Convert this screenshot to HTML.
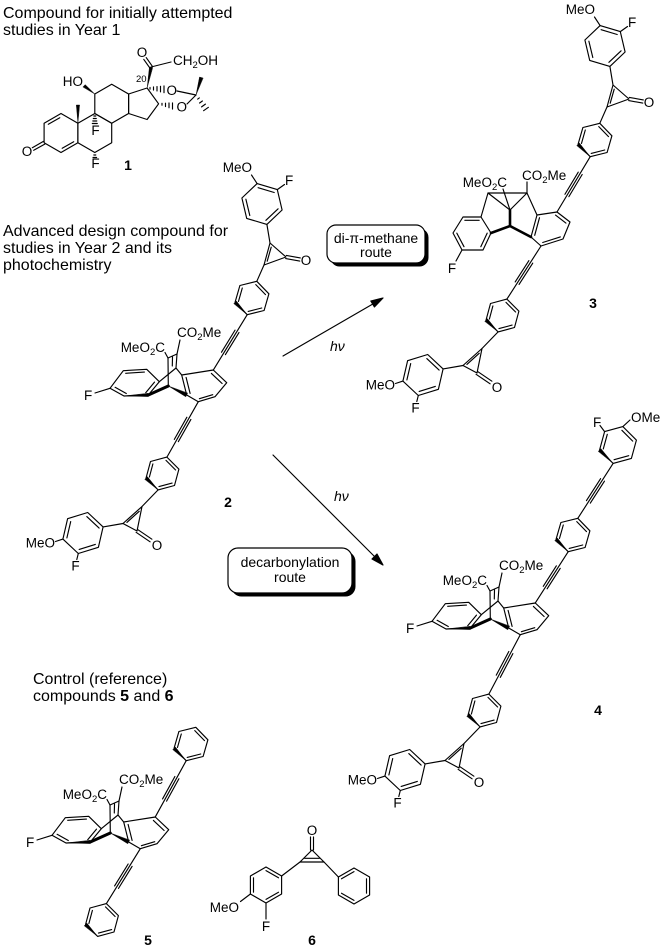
<!DOCTYPE html>
<html><head><meta charset="utf-8"><style>
html,body{margin:0;padding:0;background:#fff}
svg{display:block}
text{font-family:"Liberation Sans",Arial,sans-serif;fill:#000}
.t{font-size:16px}
.a{font-size:13.5px}
.n{font-size:14px;font-weight:bold}
.bx{font-size:14px}
</style></head><body>
<svg width="665" height="950" viewBox="0 0 665 950" xmlns="http://www.w3.org/2000/svg">
<defs>
<g id="phA">
<polygon points="247.2,314.7 235.1,302.2 239.9,285.5 256.8,281.3 268.9,293.8 264.1,310.5"/>
<line x1="238.5" y1="301.4" x2="242.3" y2="288"/>
<line x1="255.8" y1="284.6" x2="265.5" y2="294.6"/>
<line x1="261.7" y1="308" x2="248.2" y2="311.4"/>
<polygon points="247.2,314.7 236.4,301.0 233.8,303.5" fill="#000" stroke-width="0.4"/>
</g>
<g id="phB">
<polygon points="158.1,489.9 146.1,477.9 150.5,461.5 166.9,457.1 178.9,469.1 174.5,485.5"/>
<line x1="149.4" y1="477" x2="152.9" y2="463.9"/>
<line x1="166" y1="460.4" x2="175.6" y2="470"/>
<line x1="172.1" y1="483.1" x2="159" y2="486.6"/>
<polygon points="158.1,489.9 147.4,476.6 144.8,479.2" fill="#000" stroke-width="0.4"/>
</g>
</defs>

<!-- Titles -->
<text class="t" x="3" y="18">Compound for initially attempted</text>
<text class="t" x="3" y="35">studies in Year 1</text>
<text class="t" x="3" y="236">Advanced design compound for</text>
<text class="t" x="3" y="253">studies in Year 2 and its</text>
<text class="t" x="3" y="270">photochemistry</text>
<text class="t" x="33" y="684">Control (reference)</text>
<text class="t" x="33" y="701">compounds <tspan font-weight="bold">5</tspan> and <tspan font-weight="bold">6</tspan></text>

<g stroke="#000" stroke-width="1.15" fill="none" stroke-linejoin="round" stroke-linecap="round">

<!-- ============ Compound 1 ============ -->
<polygon points="61,113.5 44.1,123.25 44.1,142.75 61,152.5 77.9,142.75 77.9,123.25"/>
<polygon points="77.9,123.25 94.8,113.5 111.7,123.25 111.7,142.75 94.8,152.5 77.9,142.75"/>
<polygon points="94.8,94 111.7,84.25 128.6,94 128.6,113.5 111.7,123.25 94.8,113.5"/>
<polygon points="128.6,94 147.1,88 158.6,103.8 147.1,119.5 128.6,113.5"/>
<line x1="59.8" y1="117.7" x2="48.3" y2="124.3"/>
<line x1="62.2" y1="148.3" x2="73.7" y2="141.7"/>
<line x1="44.8" y1="144.1" x2="33.7" y2="150.3"/>
<line x1="43.4" y1="141.4" x2="32.3" y2="147.7"/>
<polygon points="77.9,123.25 76.3,105 79.5,105" fill="#000" stroke-width="0.4"/>
<polygon points="94.8,94 85.2,84.6 83,86.9" fill="#000" stroke-width="0.4"/>
<line x1="93.8" y1="116" x2="95.8" y2="116"/>
<line x1="93.3" y1="118.5" x2="96.3" y2="118.5"/>
<line x1="92.8" y1="121" x2="96.8" y2="121"/>
<line x1="92.3" y1="123.5" x2="97.3" y2="123.5"/>
<line x1="93.8" y1="155" x2="95.8" y2="155"/>
<line x1="93" y1="157.5" x2="96.6" y2="157.5"/>
<polygon points="147.1,88 149.4,67 152.6,67.5" fill="#000" stroke-width="0.4"/>
<line x1="152.2" y1="66.1" x2="146.2" y2="57.6"/>
<line x1="149.8" y1="67.9" x2="143.8" y2="59.4"/>
<line x1="151" y1="67" x2="171" y2="62"/>
<line x1="150" y1="87.5" x2="150" y2="89.2"/>
<line x1="153.5" y1="86.9" x2="153.5" y2="90.1"/>
<line x1="157" y1="86.6" x2="157" y2="91"/>
<line x1="160.5" y1="86.3" x2="160.5" y2="91.9"/>
<line x1="164" y1="85.9" x2="164" y2="92.7"/>
<line x1="162" y1="103.3" x2="162" y2="105.3"/>
<line x1="165.5" y1="103.2" x2="165.5" y2="106.6"/>
<line x1="169" y1="103" x2="169" y2="107.8"/>
<line x1="172.5" y1="102.9" x2="172.5" y2="109.1"/>
<line x1="177" y1="91" x2="196" y2="95"/>
<line x1="187" y1="104" x2="196" y2="95"/>
<polygon points="196,95 199.5,77 203,78" fill="#000" stroke-width="0.4"/>
<line x1="199.3" y1="97.9" x2="197.7" y2="99.1"/>
<line x1="202.4" y1="101" x2="199.6" y2="103"/>
<line x1="205.4" y1="104.1" x2="201.6" y2="106.9"/>
<line x1="208.4" y1="107.3" x2="203.6" y2="110.7"/>

<!-- ============ Compound 2 upper arm ============ -->
<g id="up2">
<polygon points="266.9,224.4 246.7,218.4 241.9,198 257.1,183.6 277.3,189.6 282.1,210"/>
<line x1="249.8" y1="215.5" x2="245.9" y2="199.2"/>
<line x1="258.1" y1="187.7" x2="274.2" y2="192.5"/>
<line x1="278.1" y1="208.8" x2="265.9" y2="220.3"/>
<line x1="257.1" y1="183.6" x2="251.5" y2="175"/>
<line x1="277.3" y1="189.6" x2="284.5" y2="184.5"/>
<line x1="266.9" y1="224.4" x2="270" y2="243"/>
<polygon points="270,243 264,265 286,257"/>
<line x1="271.2" y1="247.2" x2="267.2" y2="261.2"/>
<line x1="285.7" y1="258.6" x2="299.7" y2="261.1"/>
<line x1="286.3" y1="255.4" x2="300.3" y2="257.9"/>
<line x1="264" y1="265" x2="256.8" y2="281.3"/>
<use href="#phA"/>
</g>

<!-- ============ Compound 2 core ============ -->
<g id="core2">
<polygon points="110,388.3 123.3,370.7 146.7,369.3 159.3,381.7 148.3,395 124,396"/>
<line x1="125.7" y1="373.3" x2="144.4" y2="372.1"/>
<line x1="154.5" y1="382.1" x2="145.7" y2="392.7"/>
<line x1="126.3" y1="393.5" x2="115.1" y2="387.3"/>
<polygon points="181.7,375 213.3,370 226.7,382.7 215,396.7 198.3,401.7 186.7,395"/>
<line x1="186.1" y1="377.4" x2="190.1" y2="393.4"/>
<line x1="211.4" y1="373.4" x2="222.1" y2="383.5"/>
<line x1="212.7" y1="394.7" x2="199.4" y2="398.7"/>
<polyline points="159.3,381.7 176,368 181.7,375"/>
<line x1="176" y1="368" x2="177" y2="354"/>
<line x1="172.5" y1="357" x2="172.3" y2="366"/>
<line x1="168" y1="358" x2="177" y2="354"/>
<line x1="168" y1="358" x2="168.3" y2="386"/>
<line x1="165" y1="352.5" x2="168" y2="358"/>
<line x1="180" y1="340" x2="177" y2="354"/>
<line x1="110" y1="388.3" x2="95" y2="393"/>
<polygon points="124,396 148.4,396.6 148.2,393.4" fill="#000" stroke-width="0.4"/>
<line x1="148.3" y1="395" x2="168.3" y2="386" stroke-width="3"/>
<polygon points="168.3,386 185.8,396.8 187.6,393.2" fill="#000" stroke-width="0.4"/>
</g>

<!-- ============ Compound 2 lower arm ============ -->
<g id="low2">
<use href="#phB"/>
<line x1="158.1" y1="489.9" x2="142" y2="506.5"/>
<polygon points="142,506.5 123,523.5 137,531"/>
<line x1="139.2" y1="511.3" x2="126.9" y2="522.4"/>
<line x1="136.1" y1="532.3" x2="150.1" y2="541.8"/>
<line x1="137.9" y1="529.7" x2="151.9" y2="539.2"/>
<line x1="123" y1="523.5" x2="103.1" y2="526.9"/>
<polygon points="103.1,526.9 98.4,547.3 78.3,553.5 62.9,539.1 67.6,518.7 87.7,512.5"/>
<line x1="66.9" y1="537.9" x2="70.7" y2="521.6"/>
<line x1="86.8" y1="516.6" x2="99.1" y2="528.1"/>
<line x1="95.3" y1="544.4" x2="79.2" y2="549.4"/>
<line x1="62.9" y1="539.1" x2="55.5" y2="541.5"/>
<line x1="78.3" y1="553.5" x2="76.8" y2="559.5"/>
</g>

<!-- alkynes compound 2 -->
<g transform="translate(247.2,314.7) rotate(121.5)"><line x1="0" y1="0" x2="64.9" y2="0"/><line x1="19.5" y1="-2.3" x2="45.4" y2="-2.3"/><line x1="19.5" y1="2.3" x2="45.4" y2="2.3"/></g>
<g transform="translate(198.3,401.7) rotate(119.5)"><line x1="0" y1="0" x2="63.7" y2="0"/><line x1="19.1" y1="-2.3" x2="44.6" y2="-2.3"/><line x1="19.1" y1="2.3" x2="44.6" y2="2.3"/></g>

<!-- ============ Compound 3 ============ -->
<use href="#up2" transform="translate(343,-158)"/>
<use href="#low2" transform="translate(340,-158)"/>
<polygon points="463,217 481,217 491,233 483,250 462,250 453,233"/>
<line x1="464.8" y1="220.3" x2="479.2" y2="220.3"/>
<line x1="487.2" y1="233.1" x2="480.8" y2="246.7"/>
<line x1="464" y1="246.7" x2="456.8" y2="233.1"/>
<polygon points="557,212 570,222 563,239 541,246 531,237 537,215"/>
<line x1="555.5" y1="215.1" x2="565.9" y2="223.1"/>
<line x1="560.3" y1="236.9" x2="542.7" y2="242.5"/>
<line x1="534.7" y1="235.3" x2="539.5" y2="217.7"/>
<polygon points="488,193 527,193 510,210"/>
<line x1="481" y1="217" x2="488" y2="193"/>
<line x1="537" y1="215" x2="527" y2="193"/>
<line x1="527" y1="193" x2="527" y2="182"/>
<line x1="503" y1="189" x2="510" y2="210"/>
<line x1="510" y1="210" x2="510" y2="226" stroke-width="2.6"/>
<line x1="510" y1="226" x2="491" y2="233" stroke-width="2.6"/>
<line x1="510" y1="226" x2="531" y2="237" stroke-width="2.6"/>
<line x1="462" y1="250" x2="456" y2="261"/>
<g transform="translate(590.2,156.7) rotate(121)"><line x1="0" y1="0" x2="64.5" y2="0"/><line x1="19.4" y1="-2.3" x2="45.2" y2="-2.3"/><line x1="19.4" y1="2.3" x2="45.2" y2="2.3"/></g>
<g transform="translate(541,246) rotate(122.7)"><line x1="0" y1="0" x2="63.1" y2="0"/><line x1="18.9" y1="-2.3" x2="44.2" y2="-2.3"/><line x1="18.9" y1="2.3" x2="44.2" y2="2.3"/></g>

<!-- ============ Compound 4 ============ -->
<use href="#core2" transform="translate(322,233)"/>
<use href="#phA" transform="translate(321,237)"/>
<use href="#low2" transform="translate(322,237)"/>
<polygon points="613.1,463.4 599.6,449.9 604.6,431.6 622.9,426.6 636.4,440.1 631.4,458.4"/>
<line x1="603.3" y1="448.9" x2="607.3" y2="434.3"/>
<line x1="621.9" y1="430.3" x2="632.7" y2="441.1"/>
<line x1="628.7" y1="455.7" x2="614.1" y2="459.7"/>
<polygon points="613.1,463.4 600.9,448.6 598.3,451.2" fill="#000" stroke-width="0.4"/>
<line x1="604.6" y1="431.6" x2="600" y2="425.5"/>
<line x1="622.9" y1="426.6" x2="630" y2="420"/>
<g transform="translate(568.2,551.7) rotate(122.7)"><line x1="0" y1="0" x2="60.9" y2="0"/><line x1="18.3" y1="-2.3" x2="42.6" y2="-2.3"/><line x1="18.3" y1="2.3" x2="42.6" y2="2.3"/></g>
<g transform="translate(613.1,463.4) rotate(122.7)"><line x1="0" y1="0" x2="65.3" y2="0"/><line x1="19.6" y1="-2.3" x2="45.7" y2="-2.3"/><line x1="19.6" y1="2.3" x2="45.7" y2="2.3"/></g>
<g transform="translate(520.3,634.7) rotate(117.9)"><line x1="0" y1="0" x2="67.2" y2="0"/><line x1="20.2" y1="-2.3" x2="47" y2="-2.3"/><line x1="20.2" y1="2.3" x2="47" y2="2.3"/></g>

<!-- ============ Compound 5 ============ -->
<use href="#core2" transform="translate(-58,447)"/>
<use href="#phA" transform="translate(-61,446)"/>
<use href="#phB" transform="translate(-60.5,446.5)"/>
<g transform="translate(186.2,760.7) rotate(118.8)"><line x1="0" y1="0" x2="64.2" y2="0"/><line x1="19.3" y1="-2.3" x2="44.9" y2="-2.3"/><line x1="19.3" y1="2.3" x2="44.9" y2="2.3"/></g>
<g transform="translate(140.3,848.7) rotate(121.7)"><line x1="0" y1="0" x2="64.5" y2="0"/><line x1="19.4" y1="-2.3" x2="45.2" y2="-2.3"/><line x1="19.4" y1="2.3" x2="45.2" y2="2.3"/></g>

<!-- ============ Compound 6 ============ -->
<polygon points="266,867 281.6,876 281.6,894 266,903 250.4,894 250.4,876"/>
<line x1="253.5" y1="877.8" x2="253.5" y2="892.2"/>
<line x1="266" y1="870.6" x2="278.5" y2="877.8"/>
<line x1="278.5" y1="892.2" x2="266" y2="899.4"/>
<line x1="250.4" y1="894" x2="240.5" y2="901.5"/>
<line x1="266" y1="903" x2="266" y2="919"/>
<polygon points="312,850 300,862 324,862"/>
<line x1="304.5" y1="858.3" x2="319.5" y2="858.3"/>
<line x1="310.5" y1="850" x2="310.5" y2="837"/>
<line x1="313.5" y1="850" x2="313.5" y2="837"/>
<line x1="300" y1="862" x2="281.6" y2="876"/>
<line x1="324" y1="862" x2="338.4" y2="877"/>
<polygon points="354,868 369.6,877 369.6,895 354,904 338.4,895 338.4,877"/>
<line x1="341.5" y1="878.8" x2="354" y2="871.6"/>
<line x1="366.5" y1="878.8" x2="366.5" y2="893.2"/>
<line x1="354" y1="900.4" x2="341.5" y2="893.2"/>

<!-- ============ Arrows ============ -->
<line x1="283" y1="356" x2="378" y2="301"/>
<polygon points="383,298 374.4,307 370.8,301" fill="#000"/>
<line x1="273" y1="455" x2="378" y2="560"/>
<polygon points="383,565 377,554 372,559" fill="#000"/>
</g>

<!-- Boxes -->
<rect x="330.5" y="228.5" width="98" height="38" rx="9" fill="#000"/>
<rect x="327" y="225" width="98" height="38" rx="9" fill="#fff" stroke="#000" stroke-width="1.2"/>
<text class="bx" x="376" y="243" text-anchor="middle">di-π-methane</text>
<text class="bx" x="376" y="257" text-anchor="middle">route</text>
<rect x="231.5" y="551.5" width="124" height="45" rx="10" fill="#000"/>
<rect x="228" y="548" width="124" height="45" rx="10" fill="#fff" stroke="#000" stroke-width="1.2"/>
<text class="bx" x="290" y="567" text-anchor="middle">decarbonylation</text>
<text class="bx" x="290" y="582" text-anchor="middle">route</text>
<text class="bx" x="330" y="351" font-style="italic">hν</text>
<text class="bx" x="334" y="501" font-style="italic">hν</text>

<!-- Compound 1 labels -->
<text class="a" x="83" y="86" text-anchor="end">HO</text>
<text class="a" x="27" y="156" text-anchor="middle">O</text>
<text class="a" x="95.5" y="135" text-anchor="middle">F</text>
<text class="a" x="95.5" y="168" text-anchor="middle">F</text>
<text class="a" x="142" y="57" text-anchor="middle">O</text>
<text class="a" x="173" y="65">CH<tspan font-size="9.5" dy="3">2</tspan><tspan dy="-3">OH</tspan></text>
<text x="136" y="82" font-size="9.5">20</text>
<text class="a" x="171.7" y="95" text-anchor="middle">O</text>
<text class="a" x="181.7" y="111.5" text-anchor="middle">O</text>
<text class="n" x="128" y="170" text-anchor="middle">1</text>

<!-- Compound 2 labels -->
<text class="a" x="252" y="172" text-anchor="end">MeO</text>
<text class="a" x="285" y="185">F</text>
<text class="a" x="306" y="265" text-anchor="middle">O</text>
<text class="a" x="165" y="352" text-anchor="end">MeO<tspan font-size="9.5" dy="3">2</tspan><tspan dy="-3">C</tspan></text>
<text class="a" x="177" y="337">CO<tspan font-size="9.5" dy="3">2</tspan><tspan dy="-3">Me</tspan></text>
<text class="a" x="84" y="400">F</text>
<text class="a" x="55" y="547.5" text-anchor="end">MeO</text>
<text class="a" x="75.5" y="570.5" text-anchor="middle">F</text>
<text class="a" x="157" y="550" text-anchor="middle">O</text>
<text class="n" x="228" y="507" text-anchor="middle">2</text>

<!-- Compound 3 labels -->
<text class="a" x="595" y="14" text-anchor="end">MeO</text>
<text class="a" x="628" y="27">F</text>
<text class="a" x="649" y="107" text-anchor="middle">O</text>
<text class="a" x="507" y="187" text-anchor="end">MeO<tspan font-size="9.5" dy="3">2</tspan><tspan dy="-3">C</tspan></text>
<text class="a" x="522" y="180">CO<tspan font-size="9.5" dy="3">2</tspan><tspan dy="-3">Me</tspan></text>
<text class="a" x="452" y="273" text-anchor="middle">F</text>
<text class="a" x="395" y="389.5" text-anchor="end">MeO</text>
<text class="a" x="415.5" y="412.5" text-anchor="middle">F</text>
<text class="a" x="497" y="392" text-anchor="middle">O</text>
<text class="n" x="593" y="308" text-anchor="middle">3</text>

<!-- Compound 4 labels -->
<text class="a" x="593" y="427">F</text>
<text class="a" x="631" y="422">OMe</text>
<text class="a" x="487" y="585" text-anchor="end">MeO<tspan font-size="9.5" dy="3">2</tspan><tspan dy="-3">C</tspan></text>
<text class="a" x="499" y="570">CO<tspan font-size="9.5" dy="3">2</tspan><tspan dy="-3">Me</tspan></text>
<text class="a" x="406" y="633">F</text>
<text class="a" x="377" y="784.5" text-anchor="end">MeO</text>
<text class="a" x="397.5" y="807.5" text-anchor="middle">F</text>
<text class="a" x="479" y="787" text-anchor="middle">O</text>
<text class="n" x="598" y="715" text-anchor="middle">4</text>

<!-- Compound 5 labels -->
<text class="a" x="107" y="799" text-anchor="end">MeO<tspan font-size="9.5" dy="3">2</tspan><tspan dy="-3">C</tspan></text>
<text class="a" x="119" y="784">CO<tspan font-size="9.5" dy="3">2</tspan><tspan dy="-3">Me</tspan></text>
<text class="a" x="26" y="847">F</text>
<text class="n" x="148" y="945" text-anchor="middle">5</text>

<!-- Compound 6 labels -->
<text class="a" x="312" y="835" text-anchor="middle">O</text>
<text class="a" x="239" y="912" text-anchor="end">MeO</text>
<text class="a" x="266" y="931" text-anchor="middle">F</text>
<text class="n" x="312" y="945" text-anchor="middle">6</text>
</svg>
</body></html>
